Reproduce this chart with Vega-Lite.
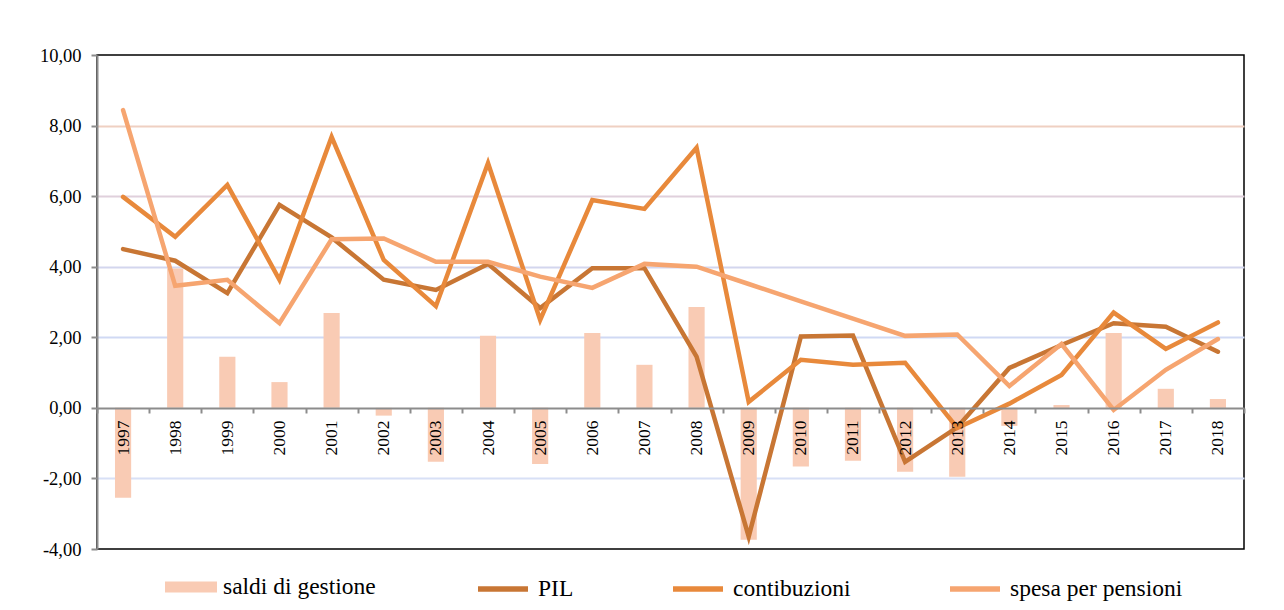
{
  "$schema": "https://vega.github.io/schema/vega-lite/v6.json",
  "width": 1147,
  "height": 494,
  "autosize": {"type": "none"},
  "padding": {"left": 97, "top": 55, "right": 40, "bottom": 61},
  "background": "white",
  "config": {
    "font": "Liberation Serif",
    "view": {"stroke": "black", "strokeWidth": 1.5},
    "legend": {"padding": 0}
  },
  "datasets": {
    "saldi": [
      {"anno": "1997", "serie": "saldi di gestione", "valore": -2.55},
      {"anno": "1998", "serie": "saldi di gestione", "valore": 3.95},
      {"anno": "1999", "serie": "saldi di gestione", "valore": 1.45},
      {"anno": "2000", "serie": "saldi di gestione", "valore": 0.73},
      {"anno": "2001", "serie": "saldi di gestione", "valore": 2.69},
      {"anno": "2002", "serie": "saldi di gestione", "valore": -0.22},
      {"anno": "2003", "serie": "saldi di gestione", "valore": -1.53},
      {"anno": "2004", "serie": "saldi di gestione", "valore": 2.04},
      {"anno": "2005", "serie": "saldi di gestione", "valore": -1.59},
      {"anno": "2006", "serie": "saldi di gestione", "valore": 2.12},
      {"anno": "2007", "serie": "saldi di gestione", "valore": 1.22},
      {"anno": "2008", "serie": "saldi di gestione", "valore": 2.86},
      {"anno": "2009", "serie": "saldi di gestione", "valore": -3.74},
      {"anno": "2010", "serie": "saldi di gestione", "valore": -1.66},
      {"anno": "2011", "serie": "saldi di gestione", "valore": -1.5},
      {"anno": "2012", "serie": "saldi di gestione", "valore": -1.81},
      {"anno": "2013", "serie": "saldi di gestione", "valore": -1.95},
      {"anno": "2014", "serie": "saldi di gestione", "valore": -0.51},
      {"anno": "2015", "serie": "saldi di gestione", "valore": 0.08},
      {"anno": "2016", "serie": "saldi di gestione", "valore": 2.12},
      {"anno": "2017", "serie": "saldi di gestione", "valore": 0.54},
      {"anno": "2018", "serie": "saldi di gestione", "valore": 0.25}
    ],
    "linee": [
      {"anno": "1997", "serie": "PIL", "valore": 4.5},
      {"anno": "1998", "serie": "PIL", "valore": 4.17},
      {"anno": "1999", "serie": "PIL", "valore": 3.25},
      {"anno": "2000", "serie": "PIL", "valore": 5.75},
      {"anno": "2001", "serie": "PIL", "valore": 4.83},
      {"anno": "2002", "serie": "PIL", "valore": 3.63},
      {"anno": "2003", "serie": "PIL", "valore": 3.34},
      {"anno": "2004", "serie": "PIL", "valore": 4.08},
      {"anno": "2005", "serie": "PIL", "valore": 2.83},
      {"anno": "2006", "serie": "PIL", "valore": 3.96},
      {"anno": "2007", "serie": "PIL", "valore": 3.96},
      {"anno": "2008", "serie": "PIL", "valore": 1.45},
      {"anno": "2009", "serie": "PIL", "valore": -3.65},
      {"anno": "2010", "serie": "PIL", "valore": 2.02},
      {"anno": "2011", "serie": "PIL", "valore": 2.05},
      {"anno": "2012", "serie": "PIL", "valore": -1.53},
      {"anno": "2013", "serie": "PIL", "valore": -0.55},
      {"anno": "2014", "serie": "PIL", "valore": 1.13},
      {"anno": "2015", "serie": "PIL", "valore": 1.78},
      {"anno": "2016", "serie": "PIL", "valore": 2.4},
      {"anno": "2017", "serie": "PIL", "valore": 2.3},
      {"anno": "2018", "serie": "PIL", "valore": 1.59},
      {"anno": "1997", "serie": "contibuzioni", "valore": 5.98},
      {"anno": "1998", "serie": "contibuzioni", "valore": 4.85},
      {"anno": "1999", "serie": "contibuzioni", "valore": 6.32},
      {"anno": "2000", "serie": "contibuzioni", "valore": 3.63},
      {"anno": "2001", "serie": "contibuzioni", "valore": 7.68},
      {"anno": "2002", "serie": "contibuzioni", "valore": 4.19},
      {"anno": "2003", "serie": "contibuzioni", "valore": 2.88},
      {"anno": "2004", "serie": "contibuzioni", "valore": 6.94},
      {"anno": "2005", "serie": "contibuzioni", "valore": 2.49},
      {"anno": "2006", "serie": "contibuzioni", "valore": 5.89},
      {"anno": "2007", "serie": "contibuzioni", "valore": 5.64},
      {"anno": "2008", "serie": "contibuzioni", "valore": 7.37},
      {"anno": "2009", "serie": "contibuzioni", "valore": 0.17},
      {"anno": "2010", "serie": "contibuzioni", "valore": 1.36},
      {"anno": "2011", "serie": "contibuzioni", "valore": 1.22},
      {"anno": "2012", "serie": "contibuzioni", "valore": 1.28},
      {"anno": "2013", "serie": "contibuzioni", "valore": -0.57},
      {"anno": "2014", "serie": "contibuzioni", "valore": 0.12},
      {"anno": "2015", "serie": "contibuzioni", "valore": 0.93},
      {"anno": "2016", "serie": "contibuzioni", "valore": 2.7},
      {"anno": "2017", "serie": "contibuzioni", "valore": 1.67},
      {"anno": "2018", "serie": "contibuzioni", "valore": 2.42},
      {"anno": "1997", "serie": "spesa per pensioni", "valore": 8.44},
      {"anno": "1998", "serie": "spesa per pensioni", "valore": 3.46},
      {"anno": "1999", "serie": "spesa per pensioni", "valore": 3.63},
      {"anno": "2000", "serie": "spesa per pensioni", "valore": 2.4},
      {"anno": "2001", "serie": "spesa per pensioni", "valore": 4.78},
      {"anno": "2002", "serie": "spesa per pensioni", "valore": 4.8},
      {"anno": "2003", "serie": "spesa per pensioni", "valore": 4.14},
      {"anno": "2004", "serie": "spesa per pensioni", "valore": 4.14},
      {"anno": "2005", "serie": "spesa per pensioni", "valore": 3.72},
      {"anno": "2006", "serie": "spesa per pensioni", "valore": 3.4},
      {"anno": "2007", "serie": "spesa per pensioni", "valore": 4.08},
      {"anno": "2008", "serie": "spesa per pensioni", "valore": 4.0},
      {"anno": "2009", "serie": "spesa per pensioni", "valore": 3.51},
      {"anno": "2010", "serie": "spesa per pensioni", "valore": 3.02},
      {"anno": "2011", "serie": "spesa per pensioni", "valore": 2.53},
      {"anno": "2012", "serie": "spesa per pensioni", "valore": 2.04},
      {"anno": "2013", "serie": "spesa per pensioni", "valore": 2.08},
      {"anno": "2014", "serie": "spesa per pensioni", "valore": 0.62},
      {"anno": "2015", "serie": "spesa per pensioni", "valore": 1.81},
      {"anno": "2016", "serie": "spesa per pensioni", "valore": -0.06},
      {"anno": "2017", "serie": "spesa per pensioni", "valore": 1.08},
      {"anno": "2018", "serie": "spesa per pensioni", "valore": 1.95}
    ]
  },
  "layer": [
    {
      "data": {"name": "saldi"},
      "mark": {"type": "bar", "width": {"band": 0.31}},
      "encoding": {
        "x": {
          "field": "anno", "type": "nominal", "sort": null,
          "scale": {"paddingInner": 0, "paddingOuter": 0},
          "axis": {
            "orient": "bottom", "offset": -141, "zindex": 1, "title": null,
            "domainColor": "#8c8c8c", "domainWidth": 2,
            "tickColor": "#8c8c8c", "tickWidth": 2, "tickSize": 5, "tickBand": "extent",
            "labelAngle": 270, "labelAlign": "right", "labelBaseline": "middle",
            "labelFontSize": 17.5, "labelColor": "black", "labelPadding": 7,
            "labelFont": "Liberation Serif", "grid": false
          }
        },
        "y": {
          "field": "valore", "type": "quantitative",
          "scale": {"domain": [-4, 10], "nice": false, "zero": false},
          "axis": {
            "title": null, "values": [-4, -2, 0, 2, 4, 6, 8, 10],
            "labelExpr": "replace(replace(format(datum.value, '.2f'), '.', ','), '\u2212', '-')",
            "labelFontSize": 18.5, "labelColor": "black", "labelPadding": 10,
            "labelFont": "Liberation Serif",
            "domainColor": "#8c8c8c", "domainWidth": 2,
            "tickColor": "#8c8c8c", "tickWidth": 2, "tickSize": 6,
            "grid": true, "gridWidth": 2,
            "gridColor": {
              "condition": [
                {"test": "datum.value == 8", "value": "#efd0c2"},
                {"test": "datum.value == 6", "value": "#e0d0dc"},
                {"test": "datum.value == 4", "value": "#d3d6ee"},
                {"test": "datum.value == 2", "value": "#d0d9f4"},
                {"test": "datum.value == -2", "value": "#d8e0f6"}
              ],
              "value": "rgba(0,0,0,0)"
            }
          }
        },
        "fill": {
          "field": "serie", "type": "nominal",
          "scale": {"domain": ["saldi di gestione"], "range": ["#f9cbb4"]},
          "legend": {
            "orient": "none", "legendX": 68, "legendY": 506, "title": null,
            "symbolType": "M-1,-0.21H1V0.21H-1Z", "symbolSize": 2704,
            "symbolStrokeWidth": 0, "symbolOpacity": 1,
            "labelFontSize": 23.5, "labelColor": "black", "labelFont": "Liberation Serif",
            "labelOffset": 6, "labelLimit": 400
          }
        }
      }
    },
    {
      "data": {"name": "linee"},
      "mark": {"type": "line", "strokeWidth": 4.5, "strokeCap": "round", "strokeJoin": "miter"},
      "encoding": {
        "x": {"field": "anno", "type": "nominal", "sort": null},
        "y": {"field": "valore", "type": "quantitative"},
        "stroke": {
          "field": "serie", "type": "nominal",
          "scale": {"domain": ["PIL", "contibuzioni", "spesa per pensioni"], "range": ["#c87634", "#e8893b", "#f6a570"]},
          "legend": {
            "orient": "none", "legendX": 378, "legendY": 506, "title": null,
            "direction": "horizontal", "columns": 3, "gridAlign": "none",
            "symbolType": "stroke", "symbolSize": 2500, "symbolStrokeWidth": 5.5,
            "labelFontSize": 23.5, "labelColor": "black", "labelFont": "Liberation Serif",
            "labelOffset": 7, "columnPadding": 88, "labelLimit": 400
          }
        }
      }
    }
  ]
}
